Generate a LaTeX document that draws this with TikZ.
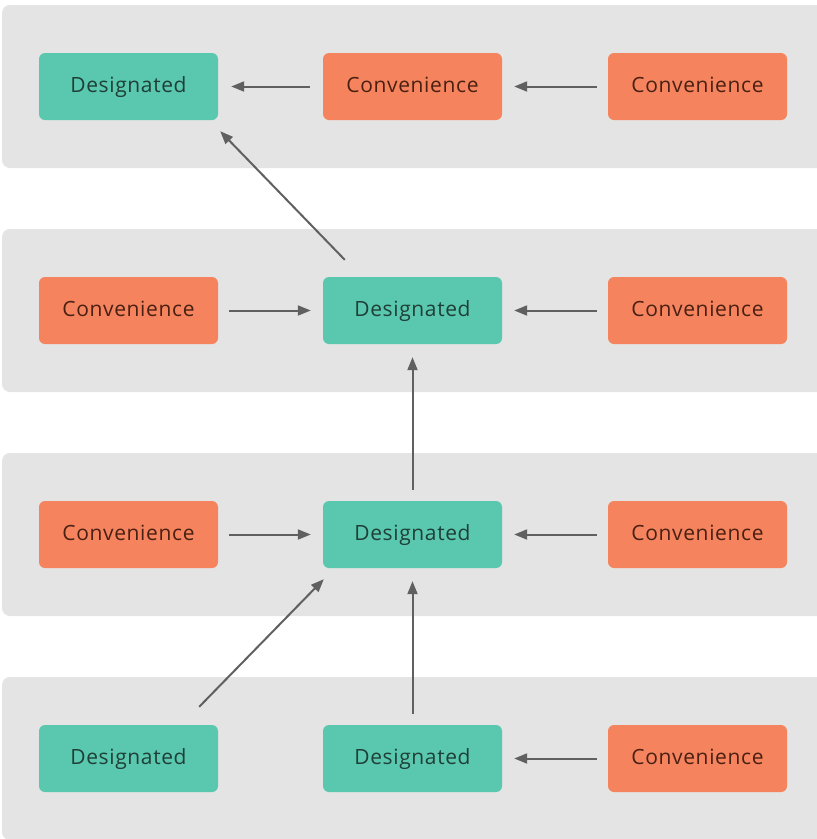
\documentclass[tikz,border=0pt]{standalone}
\usepackage{fontspec}
\setmainfont{Open Sans}[LetterSpace=3]
\usetikzlibrary{arrows.meta,calc}
\definecolor{band}{HTML}{E4E4E4}
\definecolor{teal}{HTML}{5AC8AE}
\definecolor{coral}{HTML}{F5845E}
\definecolor{tealtext}{HTML}{1F3F38}
\definecolor{coraltext}{HTML}{4A2012}
\definecolor{arrowgrey}{HTML}{606060}
\tikzset{
  box/.style={rounded corners=6pt, minimum width=179pt, minimum height=67pt,
    inner sep=0pt, text height=16pt, text depth=4pt,
    font=\fontsize{21}{25}\selectfont},
  desig/.style={box, fill=teal, text=tealtext},
  conv/.style={box, fill=coral, text=coraltext},
  arr/.style={draw=arrowgrey, line width=2pt,
    -{Triangle[length=13pt,width=10pt]}},
  bandbox/.style={fill=band, rounded corners=8pt}
}
\begin{document}
\begin{tikzpicture}[x=1pt,y=-1pt]
\useasboundingbox (0,0) rectangle (817,839);
% grey bands, one per level
\foreach \t in {5,229,453,677}
  \fill[bandbox] (2,\t) rectangle (830,\t+163);

% level 1
\node[desig] (a1) at (128.5,86.5) {Designated};
\node[conv]  (a2) at (412.5,86.5) {Convenience};
\node[conv]  (a3) at (697.5,86.5) {Convenience};
% level 2
\node[conv]  (b1) at (128.5,310.5) {Convenience};
\node[desig] (b2) at (412.5,310.5) {Designated};
\node[conv]  (b3) at (697.5,310.5) {Convenience};
% level 3
\node[conv]  (c1) at (128.5,534.5) {Convenience};
\node[desig] (c2) at (412.5,534.5) {Designated};
\node[conv]  (c3) at (697.5,534.5) {Convenience};
% level 4
\node[desig] (d1) at (128.5,758.5) {Designated};
\node[desig] (d2) at (412.5,758.5) {Designated};
\node[conv]  (d3) at (697.5,758.5) {Convenience};

% horizontal delegation
\draw[arr, shorten <=13pt, shorten >=13pt] (a2) -- (a1);
\draw[arr, shorten <=11pt, shorten >=12pt] (a3) -- (a2);
\draw[arr, shorten <=11pt, shorten >=12pt] (b1) -- (b2);
\draw[arr, shorten <=11pt, shorten >=12pt] (b3) -- (b2);
\draw[arr, shorten <=11pt, shorten >=12pt] (c1) -- (c2);
\draw[arr, shorten <=11pt, shorten >=12pt] (c3) -- (c2);
\draw[arr, shorten <=11pt, shorten >=12pt] (d3) -- (d2);

% upward delegation
\draw[arr, shorten <=11pt, shorten >=13pt] (c2) -- (b2);
\draw[arr, shorten <=11pt, shorten >=13pt] (d2) -- (c2);
\draw[arr] ($(d1.north east)+(-19,-18)$) -- ($(c2.south west)+(1,11)$);
\draw[arr] ($(b2.north west)+(22,-17)$) -- ($(a1.south east)+(2,11)$);
\end{tikzpicture}
\end{document}
